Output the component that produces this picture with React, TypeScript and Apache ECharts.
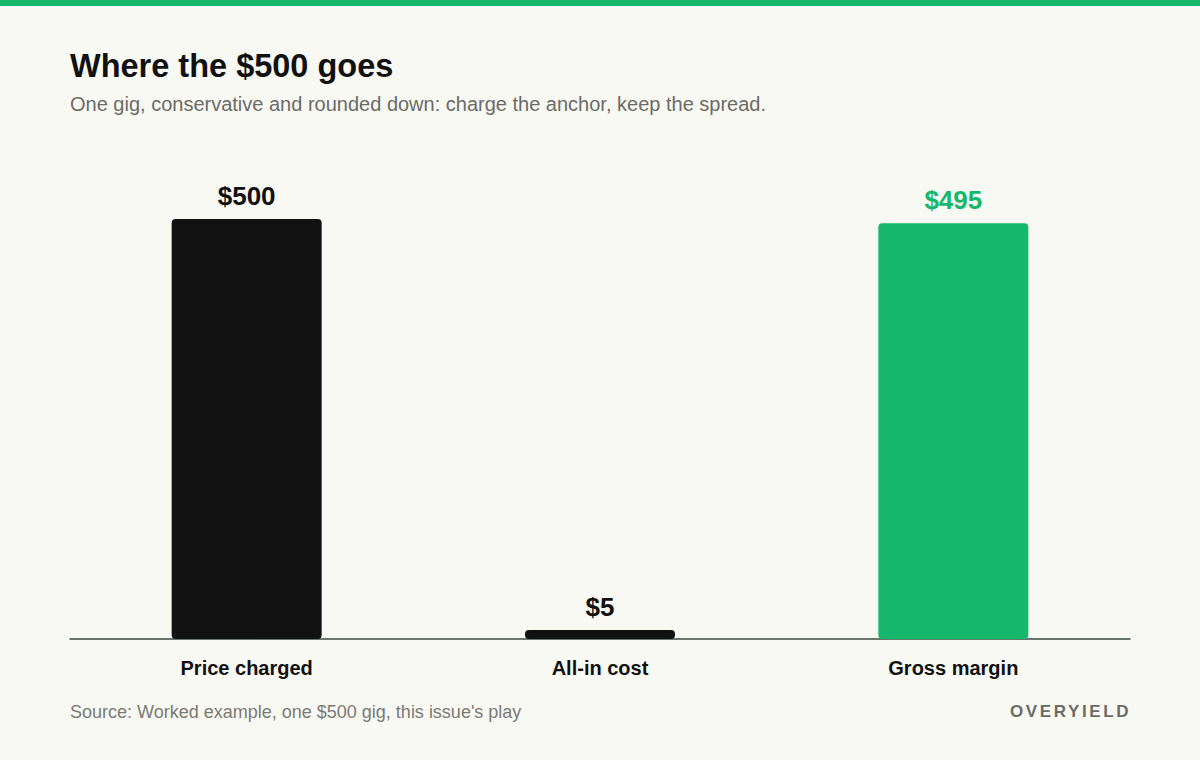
import React, { useEffect, useRef } from "react";
import * as echarts from "echarts";

const categories = ["Price charged", "All-in cost", "Gross margin"];
const values = [500, 5, 495];
const labels = ["$500", "$5", "$495"];
const barColors = ["#111111", "#111111", "#15b86b"];

const FONT = '"Liberation Sans", Arial, Helvetica, sans-serif';

export default function App() {
  const ref = useRef<HTMLDivElement>(null);
  useEffect(() => {
    document.body.style.margin = "0";
    const chart = echarts.init(ref.current!, null, { renderer: "svg" });
    chart.setOption({
      animation: false,
      backgroundColor: "#f9f9f4",
      textStyle: { fontFamily: FONT },
      grid: { left: 70, right: 70, top: 219, bottom: 121, containLabel: false },
      xAxis: {
        type: "category",
        data: categories,
        axisTick: { show: false },
        axisLine: { lineStyle: { color: "#3b4a40", width: 1.5 } },
        axisLabel: {
          color: "#111111",
          fontWeight: "bold",
          fontSize: 20,
          margin: 19,
          fontFamily: FONT,
        },
      },
      yAxis: {
        type: "value",
        min: 0,
        max: 500,
        show: false,
        splitLine: { show: false },
      },
      series: [
        {
          type: "bar",
          barWidth: 150,
          barMinHeight: 9,
          data: values.map((v, i) => ({
            value: v,
            itemStyle: { color: barColors[i], borderRadius: 4 },
            label: {
              show: true,
              position: "top",
              distance: 10,
              formatter: labels[i],
              color: barColors[i],
              fontWeight: "bold",
              fontSize: 26,
              fontFamily: FONT,
            },
          })),
        },
      ],
      graphic: [
        {
          type: "rect",
          left: 0,
          top: 0,
          shape: { width: 1200, height: 6 },
          style: { fill: "#15b86b" },
        },
        {
          type: "text",
          left: 70,
          top: 49,
          style: {
            text: "Where the $500 goes",
            fill: "#111111",
            font: `bold 32.5px ${FONT}`,
          },
        },
        {
          type: "text",
          left: 70,
          top: 94,
          style: {
            text: "One gig, conservative and rounded down: charge the anchor, keep the spread.",
            fill: "#6b6b66",
            font: `20px ${FONT}`,
          },
        },
        {
          type: "text",
          left: 70,
          top: 703,
          style: {
            text: "Source: Worked example, one $500 gig, this issue's play",
            fill: "#7a7a74",
            font: `18px ${FONT}`,
          },
        },
        {
          type: "text",
          left: 1010,
          top: 703,
          style: {
            text: "OVERYIELD",
            fill: "#6b6b66",
            font: `bold 17px ${FONT}`,
          },
        },
      ],
    });
    const svgTexts = ref.current!.querySelectorAll("text");
    svgTexts.forEach((t) => {
      if (t.textContent === "OVERYIELD") {
        t.setAttribute("letter-spacing", "2.6");
      }
    });
    return () => chart.dispose();
  }, []);
  return <div ref={ref} style={{ width: 1200, height: 760 }} />;
}
